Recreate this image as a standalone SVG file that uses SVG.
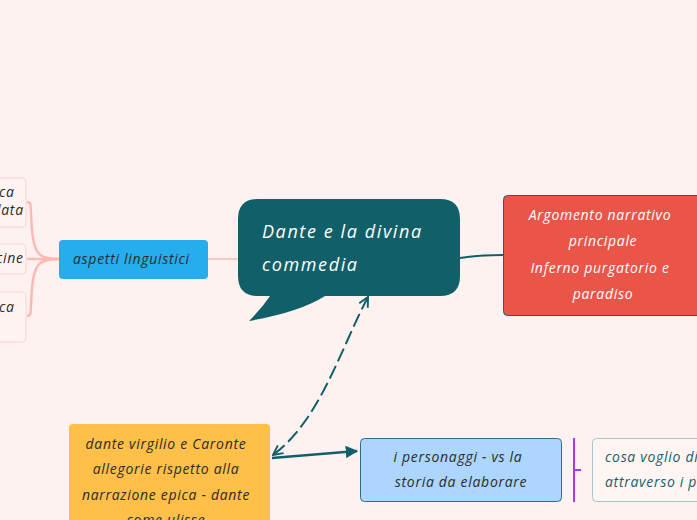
<svg xmlns="http://www.w3.org/2000/svg" width="697" height="520" viewBox="0 0 697 520">
<defs>
<style>
text{font-family:"Open Sans","Liberation Sans",sans-serif;font-style:italic;font-size:14px;letter-spacing:0.7px}
.dk{fill:#2b2b2b}
.wh{fill:#ffffff}
.big{font-size:18px;letter-spacing:1.6px}
.leaf{fill:#fff4f2;stroke:#fbd3cf;stroke-width:1}
</style>
<marker id="ah" viewBox="0 0 10 10" refX="9" refY="5" markerWidth="5" markerHeight="5" orient="auto-start-reverse"><path d="M0,0 L10,5 L0,10 z" fill="#115f69"/></marker>
<marker id="ao" viewBox="0 0 10 10" refX="9" refY="5" markerWidth="6" markerHeight="6" orient="auto-start-reverse"><path d="M1,1 L9,5 L1,9" fill="none" stroke="#115f69" stroke-width="1.6"/></marker>
</defs>
<rect width="697" height="520" fill="#fdf2f0"/>
<g id="connectors" fill="none">
<path d="M208,259 L238,259" stroke="#fdbab3" stroke-width="1.5"/>
<path d="M59,259 C40,259 34,255 32,230 C30,205 32,202 27,202" stroke="#fdbab3" stroke-width="2.5"/>
<path d="M59,259 L27,259" stroke="#fdbab3" stroke-width="2.5"/>
<path d="M59,259 C40,259 34,263 32,288 C30,313 32,316 27,316" stroke="#fdbab3" stroke-width="2.5"/>
<path d="M460,258 C478,255 490,255 503,255" stroke="#115f69" stroke-width="2"/>
<path d="M368,297 C340,350 320,420 273,455" stroke="#115f69" stroke-width="2" stroke-dasharray="14,5" marker-start="url(#ao)" marker-end="url(#ao)"/>
<path d="M272,458 L357,451" stroke="#115f69" stroke-width="2.5" marker-end="url(#ah)"/>
<path d="M574,438 L574,502 M574,470 L581,470" stroke="#a23cf0" stroke-width="2"/>
</g>
<g id="central">
<path d="M258,199 L440,199 Q460,199 460,219 L460,276 Q460,296 440,296 L325,296 Q300,312 249,321 Q262,308 270,296 L258,296 Q238,296 238,276 L238,219 Q238,199 258,199 Z" fill="#115f69"/>
<text class="wh big" x="262" y="238">Dante e la divina</text>
<text class="wh big" x="262" y="271">commedia</text>
</g>
<g id="argomento">
<rect x="503.5" y="195.5" width="205" height="120" rx="4" fill="#ea5549" stroke="#1d6470" stroke-width="1"/>
<text class="wh" x="600" y="220" text-anchor="middle">Argomento narrativo</text>
<text class="wh" x="603" y="246" text-anchor="middle">principale</text>
<text class="wh" x="600" y="273" text-anchor="middle">Inferno purgatorio e</text>
<text class="wh" x="603" y="299" text-anchor="middle">paradiso</text>
</g>
<g id="aspetti">
<rect x="59" y="240" width="149" height="39" rx="4" fill="#26adee"/>
<text class="dk" x="73" y="264">aspetti linguistici</text>
</g>
<g id="leaf1">
<rect class="leaf" x="-10" y="178" width="36" height="49" rx="4"/>
<text class="dk" x="-1" y="197">ca</text>
<text class="dk" x="-3" y="215">lata</text>
</g>
<g id="leaf2">
<rect class="leaf" x="-10" y="244" width="36" height="30" rx="4"/>
<text class="dk" x="-4" y="263">cine</text>
</g>
<g id="leaf3">
<rect class="leaf" x="-10" y="292" width="36" height="50" rx="4"/>
<text class="dk" x="-1" y="312">ca</text>
</g>
<g id="dante">
<rect x="69" y="424" width="201" height="110" rx="4" fill="#fec048"/>
<text class="dk" x="166" y="449" text-anchor="middle">dante virgilio e Caronte</text>
<text class="dk" x="166" y="474" text-anchor="middle">allegorie rispetto alla</text>
<text class="dk" x="166" y="500" text-anchor="middle">narrazione epica - dante</text>
<text class="dk" x="166" y="525" text-anchor="middle">come ulisse</text>
</g>
<g id="personaggi">
<rect x="360.5" y="438.5" width="201" height="63" rx="4" fill="#acd6fd" stroke="#2d6f80" stroke-width="1"/>
<text class="dk" x="458" y="462" text-anchor="middle">i personaggi - vs la</text>
<text class="dk" x="461" y="487" text-anchor="middle">storia da elaborare</text>
</g>
<g id="cosa">
<rect x="592.5" y="438.5" width="130" height="63" rx="4" fill="#fff6f4" stroke="#a7c4c8" stroke-width="1"/>
<text x="605" y="462" fill="#1a5c6d">cosa voglio dire</text>
<text x="605" y="487" fill="#1a5c6d">attraverso i personaggi</text>
</g>
</svg>
